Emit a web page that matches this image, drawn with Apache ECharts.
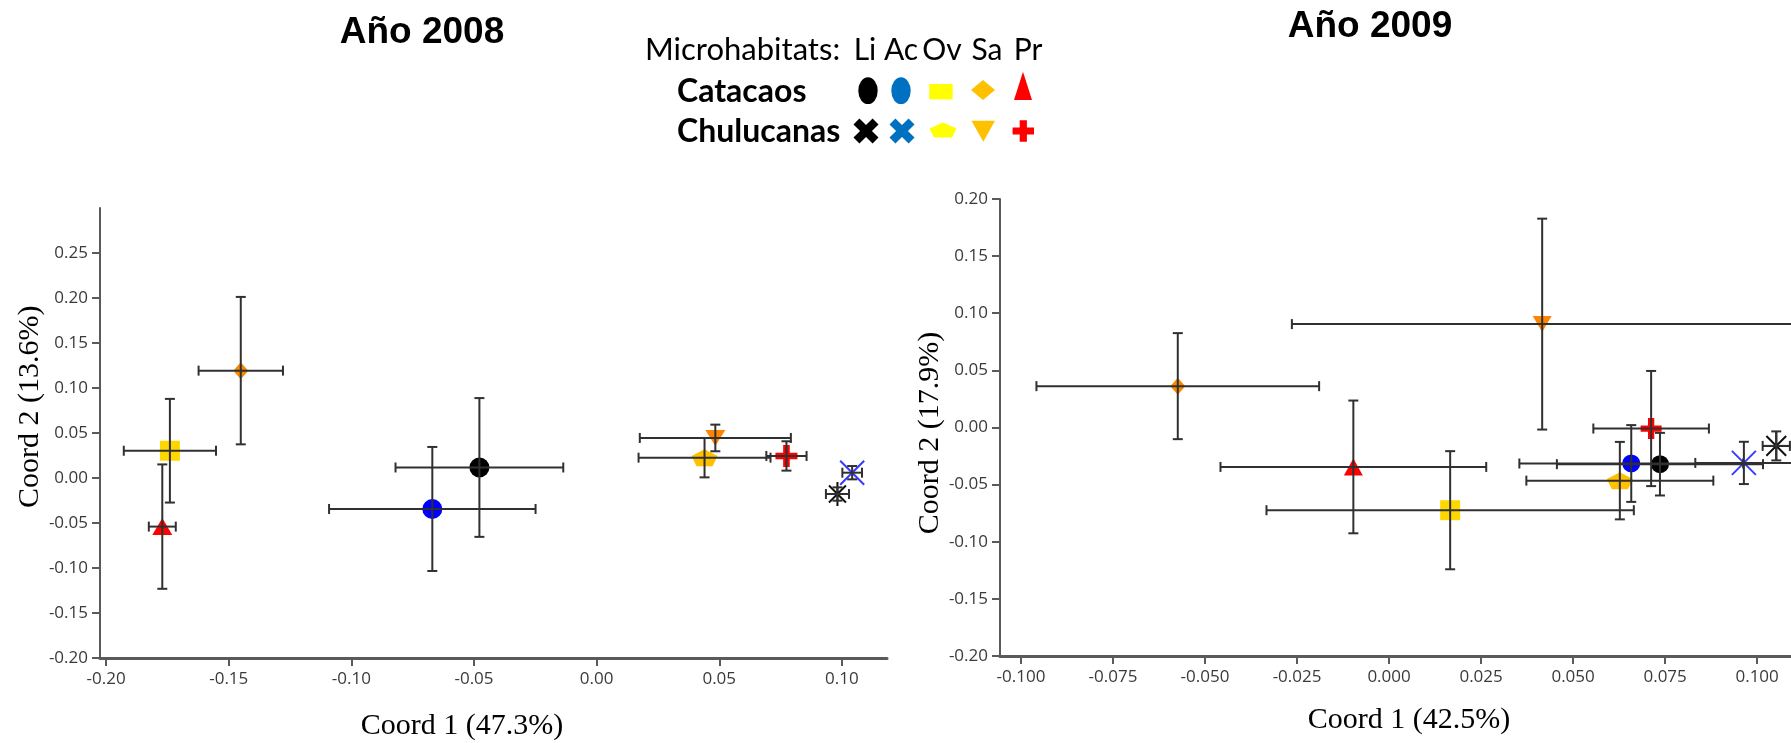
<!DOCTYPE html>
<html>
<head>
<meta charset="utf-8">
<script src="https://cdn.jsdelivr.net/npm/echarts@6/dist/echarts.min.js"></script>
<style>html,body{margin:0;padding:0;background:#fff;}#c{width:1791px;height:743px;}</style>
</head>
<body>
<div id="c"></div>
<script>
// ---------- DATA ----------
const habitats = ['Li', 'Ac', 'Ov', 'Sa', 'Pr'];
const sites = ['Catacaos', 'Chulucanas'];

// Año 2008
const catacaos2008X    = [-0.0478, -0.0670, -0.1740, -0.1451, -0.1771];
const catacaos2008Y    = [ 0.0117, -0.0344,  0.0303,  0.1193, -0.0540];
const catacaos2008XErr = [ 0.0342,  0.0421,  0.0188,  0.0172,  0.0055];
const catacaos2008YErr = [ 0.0771,  0.0689,  0.0576,  0.0819,  0.0691];

const chulucanas2008X    = [ 0.0982,  0.1042,  0.0440,  0.0484,  0.0774];
const chulucanas2008Y    = [-0.0178,  0.0059,  0.0226,  0.0445,  0.0245];
const chulucanas2008XErr = [ 0.0047,  0.0040,  0.0269,  0.0308,  0.0082];
const chulucanas2008YErr = [ 0.0074,  0.0074,  0.0219,  0.0148,  0.0163];

// Año 2009
const catacaos2009X    = [ 0.0736,  0.0658,  0.0166, -0.0574, -0.0097];
const catacaos2009Y    = [-0.0321, -0.0315, -0.0724,  0.0362, -0.0345];
const catacaos2009XErr = [ 0.0280,  0.0304,  0.0499,  0.0384,  0.0361];
const catacaos2009YErr = [ 0.0274,  0.0336,  0.0517,  0.0464,  0.0581];

const chulucanas2009X    = [ 0.1052,  0.0964,  0.0627,  0.0416,  0.0712];
const chulucanas2009Y    = [-0.0161, -0.0310, -0.0465,  0.0905, -0.0009];
const chulucanas2009XErr = [ 0.0037,  0.0132,  0.0254,  0.0680,  0.0157];
const chulucanas2009YErr = [ 0.0127,  0.0185,  0.0339,  0.0923,  0.0504];

// Tick labels
const xTicks2008 = [-0.20, -0.15, -0.10, -0.05, 0.00, 0.05, 0.10];
const yTicks2008 = [-0.20, -0.15, -0.10, -0.05, 0.00, 0.05, 0.10, 0.15, 0.20, 0.25];
const xTicks2009 = [-0.100, -0.075, -0.050, -0.025, 0.000, 0.025, 0.050, 0.075, 0.100];
const yTicks2009 = [-0.20, -0.15, -0.10, -0.05, 0.00, 0.05, 0.10, 0.15, 0.20];

const titles = ['Año 2008', 'Año 2009'];
const xNames = ['Coord 1 (47.3%)', 'Coord 1 (42.5%)'];
const yNames = ['Coord 2 (13.6%)', 'Coord 2 (17.9%)'];

// ---------- STYLES ----------
const P_ASTER = 'path://M10,0L10,20M0,10L20,10M2.93,2.93L17.07,17.07M17.07,2.93L2.93,17.07';
const P_X = 'path://M0,0L20,20M20,0L0,20';
const P_PENT = 'path://M10,0L20,7.6L16.2,19L3.8,19L0,7.6Z';
const P_DTRI = 'path://M0,0L20,0L10,17Z';
const P_PLUS = 'path://M7,0H13V7H20V13H13V20H7V13H0V7H7Z';

const catSymbols = ['circle', 'circle', 'rect', 'diamond', 'triangle'];
const catColors = ['#000000', '#0000ff', '#ffd700', '#f58a00', '#ff0000'];
const chuSymbols = [P_ASTER, P_X, P_PENT, P_DTRI, P_PLUS];
const chuColors = ['#111111', '#3a3aff', '#ffc000', '#ff8400', '#ff0000'];
const chuStroke = [true, true, false, false, false];
const catSizes = [[20, 20, 20, [15, 17], [20, 17]], [18, 18, 20, [15, 17], [19, 17]]];
const chuSizes = [[24, 24, [26, 17], [20, 16], 22], [28, 24, [26, 17], [19, 16], 21]];

const labelFont = {fontFamily: 'Open Sans', fontSize: 17, color: '#3a3a3a'};

function axisCommon(ticks, digits, isX) {
  return {
    type: 'value',
    splitLine: {show: false},
    axisLine: {show: true, onZero: false, lineStyle: {color: '#5a5a5a', width: isX ? 3 : 2}},
    axisTick: {show: true, length: 8, lineStyle: {color: '#5a5a5a', width: 2}, customValues: ticks},
    axisLabel: Object.assign({customValues: ticks, margin: isX ? 13 : 12,
      formatter: v => v.toFixed(digits)}, labelFont)
  };
}

const xAxes = [
  Object.assign(axisCommon(xTicks2008, 2, true), {gridIndex: 0, min: -0.2025, max: 0.1184}),
  Object.assign(axisCommon(xTicks2009, 3, true), {gridIndex: 1, min: -0.1057, max: 0.1092})
];
const yAxes = [
  Object.assign(axisCommon(yTicks2008, 2, false), {gridIndex: 0, min: -0.20, max: 0.30}),
  Object.assign(axisCommon(yTicks2009, 2, false), {gridIndex: 1, min: -0.20, max: 0.20})
];

const yearData = [
  {cx: catacaos2008X, cy: catacaos2008Y, cex: catacaos2008XErr, cey: catacaos2008YErr,
   hx: chulucanas2008X, hy: chulucanas2008Y, hex: chulucanas2008XErr, hey: chulucanas2008YErr},
  {cx: catacaos2009X, cy: catacaos2009Y, cex: catacaos2009XErr, cey: catacaos2009YErr,
   hx: chulucanas2009X, hy: chulucanas2009Y, hex: chulucanas2009XErr, hey: chulucanas2009YErr}
];

const series = [];
yearData.forEach((d, gi) => {
  habitats.forEach((h, i) => {
    series.push({
      type: 'scatter', name: sites[0] + ' ' + h, xAxisIndex: gi, yAxisIndex: gi, z: 2,
      symbol: catSymbols[i], symbolSize: catSizes[gi][i], symbolKeepAspect: false,
      itemStyle: {color: catColors[i], opacity: 1},
      data: [[d.cx[i], d.cy[i]]], clip: true, silent: true
    });
    const stroke = chuStroke[i];
    series.push({
      type: 'scatter', name: sites[1] + ' ' + h, xAxisIndex: gi, yAxisIndex: gi, z: 2,
      symbol: chuSymbols[i], symbolSize: chuSizes[gi][i], symbolKeepAspect: false,
      itemStyle: stroke ? {color: 'rgba(0,0,0,0)', borderColor: chuColors[i], borderWidth: 2, opacity: 1}
                        : {color: chuColors[i], opacity: 1},
      data: [[d.hx[i], d.hy[i]]], clip: true, silent: true
    });
  });
  const ebData = [];
  habitats.forEach((h, i) => {
    ebData.push([d.cx[i], d.cy[i], d.cex[i], d.cey[i]]);
    ebData.push([d.hx[i], d.hy[i], d.hex[i], d.hey[i]]);
  });
  series.push({
    type: 'custom', xAxisIndex: gi, yAxisIndex: gi, z: 3, clip: true, silent: true,
    data: ebData,
    renderItem: function (params, api) {
      const x = api.value(0), y = api.value(1), ex = api.value(2), ey = api.value(3);
      const l = api.coord([x - ex, y]), r = api.coord([x + ex, y]);
      const t = api.coord([x, y + ey]), b = api.coord([x, y - ey]);
      const cap = 5;
      const st = {stroke: '#303030', lineWidth: 2};
      const L = (x1, y1, x2, y2) => ({type: 'line', shape: {x1, y1, x2, y2}, style: st});
      return {type: 'group', children: [
        L(l[0], l[1], r[0], r[1]),
        L(l[0], l[1] - cap, l[0], l[1] + cap),
        L(r[0], r[1] - cap, r[0], r[1] + cap),
        L(t[0], t[1], b[0], b[1]),
        L(t[0] - cap, t[1], t[0] + cap, t[1]),
        L(b[0] - cap, b[1], b[0] + cap, b[1])
      ]};
    }
  });
});

// ---------- LEGEND / TITLES (graphic) ----------
function crossPts(cx, cy, h, a, ang) {
  const loc = [[-a,-h],[a,-h],[a,-a],[h,-a],[h,a],[a,a],[a,h],[-a,h],[-a,a],[-h,a],[-h,-a],[-a,-a]];
  const c = Math.cos(ang), s = Math.sin(ang);
  return loc.map(p => [cx + p[0]*c - p[1]*s, cy + p[0]*s + p[1]*c]);
}
const legCols = [868, 901, 941, 983, 1023];
const headCols = [865, 901, 942, 987, 1028];
const legColors = ['#000000', '#0070c0', '#ffff00', '#ffc000', '#ff0000'];
const legFont = 'Lato';

const graphic = [];
titles.forEach((t, i) => {
  graphic.push({type: 'text', x: [422, 1370][i], y: [32.7, 26.3][i],
    style: {text: t, align: 'center', verticalAlign: 'middle', fill: '#000',
      font: 'bold 37px "Liberation Sans", Arial, sans-serif'}});
});
xNames.forEach((t, i) => {
  graphic.push({type: 'text', x: [462, 1409][i], y: [726, 720][i],
    style: {text: t, align: 'center', verticalAlign: 'middle', fill: '#000',
      font: '30px "Liberation Serif", "Times New Roman", serif'}});
});
yNames.forEach((t, i) => {
  graphic.push({type: 'text', x: [30, 930][i], y: [406.7, 433][i], rotation: Math.PI / 2,
    style: {text: t, align: 'center', verticalAlign: 'middle', fill: '#000',
      font: '30px "Liberation Serif", "Times New Roman", serif'}});
});
graphic.push({type: 'text', x: 645, y: 50, style: {text: 'Microhabitats:', align: 'left', verticalAlign: 'middle',
  fill: '#000', font: '31px ' + legFont}});
habitats.forEach((h, i) => {
  graphic.push({type: 'text', x: headCols[i], y: 50, style: {text: h, align: 'center', verticalAlign: 'middle',
    fill: '#000', font: '30px ' + legFont}});
});
sites.forEach((s, i) => {
  graphic.push({type: 'text', x: 677, y: [91.5, 131.5][i], style: {text: s, align: 'left', verticalAlign: 'middle',
    fill: '#000', font: 'bold 32px ' + legFont}});
});
// row 1 symbols (Catacaos)
const r1 = 90.7, r2 = 131;
graphic.push({type: 'circle', x: legCols[0], y: r1, scaleY: 1.38, shape: {cx: 0, cy: 0, r: 9.7}, style: {fill: legColors[0]}});
graphic.push({type: 'circle', x: legCols[1], y: r1, scaleY: 1.38, shape: {cx: 0, cy: 0, r: 9.7}, style: {fill: legColors[1]}});
graphic.push({type: 'rect', shape: {x: legCols[2] - 11.7, y: 84, width: 23.4, height: 15.4}, style: {fill: legColors[2]}});
graphic.push({type: 'polygon', shape: {points: [[legCols[3], 80], [legCols[3] + 12, 90], [legCols[3], 100], [legCols[3] - 12, 90]]}, style: {fill: legColors[3]}});
graphic.push({type: 'polygon', shape: {points: [[legCols[4], 71.7], [legCols[4] + 9, 100], [legCols[4] - 9, 100]]}, style: {fill: legColors[4]}});
// row 2 symbols (Chulucanas)
graphic.push({type: 'polygon', shape: {points: crossPts(866, r2, 13.5, 4.2, Math.PI / 4)}, style: {fill: legColors[0]}});
graphic.push({type: 'polygon', shape: {points: crossPts(902, r2, 13.5, 4.2, Math.PI / 4)}, style: {fill: legColors[1]}});
graphic.push({type: 'polygon', shape: {points: [[943, 122.5], [956.5, 128.5], [952, 137.5], [934, 137.5], [929.5, 128.5]]}, style: {fill: legColors[2]}});
graphic.push({type: 'polygon', shape: {points: [[971.5, 120.7], [995, 120.7], [983.3, 141.7]]}, style: {fill: legColors[3]}});
graphic.push({type: 'polygon', shape: {points: crossPts(1023.3, r2, 10.7, 3.6, 0)}, style: {fill: legColors[4]}});

const option = {
  animation: false,
  backgroundColor: '#ffffff',
  grid: [
    {left: 100, top: 208, width: 787, height: 450},
    {left: 1000, top: 199, width: 791, height: 457}
  ],
  xAxis: xAxes,
  yAxis: yAxes,
  series: series,
  graphic: graphic
};
const chart = echarts.init(document.getElementById('c'), null, {renderer: 'canvas'});
chart.setOption(option);
</script>
</body>
</html>
